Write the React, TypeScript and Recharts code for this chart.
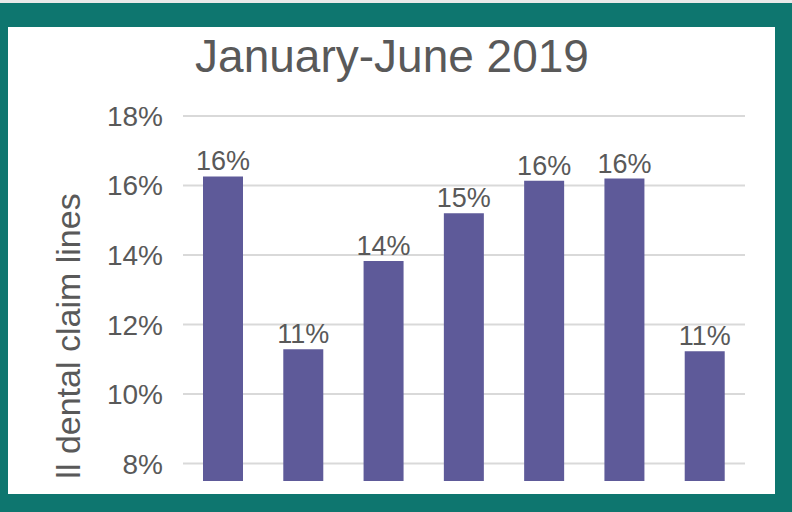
import { BarChart, Bar, XAxis, YAxis, CartesianGrid, LabelList } from 'recharts'

// x-axis labels are cropped out of the source image, so the categories are placeholders
const categories = ['Group 1', 'Group 2', 'Group 3', 'Group 4', 'Group 5', 'Group 6', 'Group 7']
const shares = [16.26, 11.29, 13.83, 15.2, 16.14, 16.2, 11.23]
const yTicks = [8, 10, 12, 14, 16, 18]

const TITLE = 'January-June 2019'
const Y_LABEL = 'll dental claim lines'

const FONT = '"Liberation Sans", Arial, sans-serif'
const TEXT = '#595959'
const BAR = '#5e5a99'
const TEAL = '#0e766f'

const data = categories.map((name, i) => ({ name, share: shares[i] }))

export default function App() {
  return (
    <div style={{ position: 'fixed', left: 0, top: 0, width: 792, height: 512, background: TEAL, fontFamily: FONT }}>
      <div style={{ position: 'absolute', left: 0, top: 0, width: 792, height: 3, background: '#e9e9e9' }} />
      <div style={{ position: 'absolute', left: 8, top: 27, width: 767, height: 467, background: '#ffffff' }} />

      <div style={{ position: 'absolute', left: 0, top: 0 }}>
        <BarChart
          width={792}
          height={512}
          data={data}
          margin={{ top: 116, right: 47, bottom: 31, left: 0 }}
          barSize={40}
        >
          <CartesianGrid vertical={false} horizontalValues={yTicks} stroke="#d9d9d9" strokeWidth={2} />
          <XAxis dataKey="name" hide />
          <YAxis
            width={183}
            domain={[7.5, 18]}
            ticks={yTicks}
            allowDataOverflow
            axisLine={false}
            tickLine={false}
            tickMargin={14}
            tickFormatter={(v) => `${v}%`}
            tick={{ fill: TEXT, fontSize: 28, fontFamily: FONT }}
          />
          <Bar dataKey="share" fill={BAR} isAnimationActive={false}>
            <LabelList
              dataKey="share"
              position="top"
              offset={6}
              formatter={(v: number) => `${Math.round(v)}%`}
              style={{ fill: TEXT, fontSize: 27, fontFamily: FONT }}
            />
          </Bar>
        </BarChart>
      </div>

      <svg width={792} height={512} style={{ position: 'absolute', left: 0, top: 0, pointerEvents: 'none' }}>
        <text x={392} y={72} textAnchor="middle" fill={TEXT} fontSize={46} fontFamily={FONT}>
          {TITLE}
        </text>
        <text
          x={80}
          y={336}
          textAnchor="middle"
          fill={TEXT}
          fontSize={34}
          fontFamily={FONT}
          transform="rotate(-90, 80, 336)"
        >
          {Y_LABEL}
        </text>
      </svg>
    </div>
  )
}
